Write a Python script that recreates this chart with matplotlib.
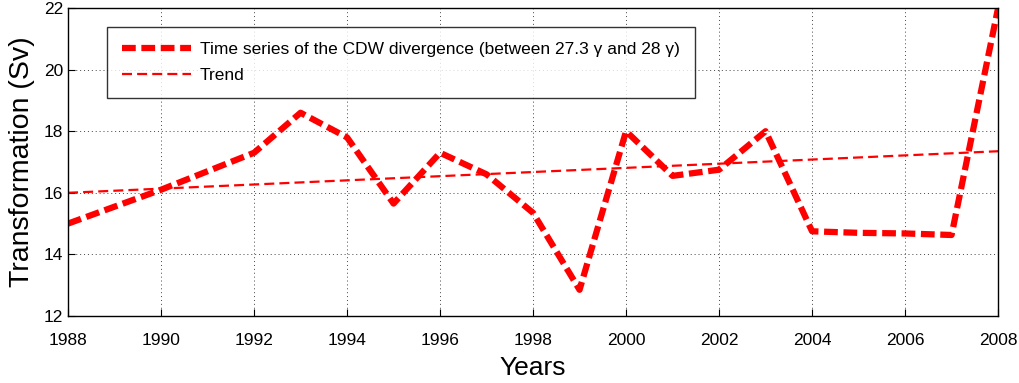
#!/usr/bin/env python3
"""CDW divergence transformation time series with linear trend."""
import matplotlib
matplotlib.use("Agg")
import matplotlib.pyplot as plt

years = [1988, 1989, 1990, 1991, 1992, 1993, 1994, 1995, 1996, 1997, 1998,
         1999, 2000, 2001, 2002, 2003, 2004, 2005, 2006, 2007, 2008]
transformation = [15.0, 15.55, 16.1, 16.7, 17.3, 18.6, 17.8, 15.65, 17.3, 16.6, 15.35,
                  12.85, 18.0, 16.55, 16.75, 18.0, 14.75, 14.7, 14.68, 14.63, 22.0]
trend_years = [1988, 2008]
trend_values = [16.0, 17.35]

plt.rcParams["font.family"] = ["Liberation Sans", "DejaVu Sans"]

fig = plt.figure(figsize=(10.2, 3.83), dpi=100)
ax = fig.add_axes([0.0667, 0.175, 0.9118, 0.804])

ax.plot(years, transformation, color="red", linewidth=4.5, dashes=(2.2, 0.9),
        label="Time series of the CDW divergence (between 27.3 \u03b3 and 28 \u03b3)")
ax.plot(trend_years, trend_values, color="red", linewidth=1.6, dashes=(4.5, 2.3),
        label="Trend")

ax.set_xlim(1988, 2008)
ax.set_ylim(12, 22)
ax.set_xticks(range(1988, 2009, 2))
ax.set_yticks(range(12, 23, 2))
ax.tick_params(direction="in", labelsize=12.5, length=5, width=0.8)
ax.tick_params(axis="x", pad=12)
ax.grid(True, color="#444444", linestyle=(0, (1, 3)), linewidth=0.7)
for s in ax.spines.values():
    s.set_linewidth(1.0)

ax.set_xlabel("Years", fontsize=19, labelpad=6)
ax.set_ylabel("Transformation (Sv)", fontsize=20.5, labelpad=6)

leg = ax.legend(loc="upper left", bbox_to_anchor=(0.042, 0.938), borderaxespad=0,
                fontsize=12.5, frameon=True, fancybox=False, handlelength=4.0,
                borderpad=0.85, labelspacing=0.65, handletextpad=0.5)
leg.get_frame().set_edgecolor("black")
leg.get_frame().set_linewidth(1.0)

fig.savefig("out.png", dpi=100)
